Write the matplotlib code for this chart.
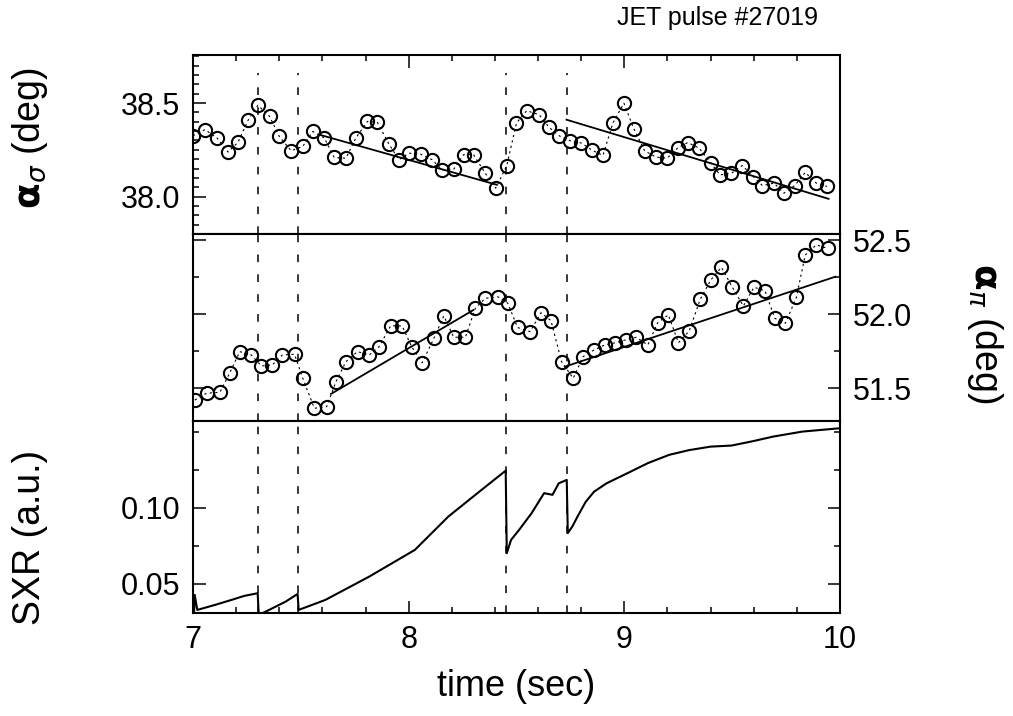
import matplotlib

matplotlib.use("Agg")
import matplotlib.pyplot as plt
from matplotlib.ticker import MultipleLocator, FixedLocator

plt.rcParams["font.family"] = ["Liberation Sans", "DejaVu Sans"]
plt.rcParams["mathtext.fontset"] = "dejavusans"

# ---------------------------------------------------------------------------
# data (JET pulse #27019)
# ---------------------------------------------------------------------------
sig_t = [7.000, 7.055, 7.112, 7.163, 7.209, 7.255, 7.301, 7.355, 7.400, 7.455,
         7.509, 7.555, 7.609, 7.655, 7.709, 7.755, 7.809, 7.855, 7.909, 7.955,
         8.001, 8.055, 8.109, 8.155, 8.209, 8.255, 8.301, 8.355, 8.404, 8.455,
         8.500, 8.547, 8.605, 8.651, 8.698, 8.748, 8.801, 8.852, 8.901, 8.947,
         8.998, 9.044, 9.094, 9.147, 9.198, 9.247, 9.294, 9.347, 9.401, 9.444,
         9.497, 9.547, 9.598, 9.640, 9.694, 9.740, 9.790, 9.839, 9.890, 9.940]
sig_v = [38.325, 38.358, 38.313, 38.238, 38.291, 38.407, 38.488, 38.429, 38.322, 38.245,
         38.268, 38.348, 38.313, 38.209, 38.205, 38.313, 38.402, 38.397, 38.280, 38.197,
         38.232, 38.227, 38.197, 38.143, 38.146, 38.224, 38.224, 38.125, 38.045, 38.166,
         38.393, 38.459, 38.438, 38.370, 38.325, 38.299, 38.286, 38.247, 38.220, 38.393,
         38.500, 38.363, 38.245, 38.211, 38.205, 38.259, 38.289, 38.259, 38.179, 38.116,
         38.125, 38.166, 38.107, 38.059, 38.072, 38.018, 38.059, 38.129, 38.072, 38.054]

pi_t = [7.009, 7.063, 7.125, 7.171, 7.217, 7.271, 7.317, 7.368, 7.414, 7.471,
        7.509, 7.563, 7.620, 7.663, 7.709, 7.763, 7.817, 7.863, 7.917, 7.970,
        8.014, 8.063, 8.117, 8.163, 8.209, 8.263, 8.309, 8.355, 8.413, 8.460,
        8.505, 8.563, 8.614, 8.660, 8.709, 8.763, 8.809, 8.860, 8.909, 8.958,
        9.006, 9.055, 9.109, 9.155, 9.204, 9.251, 9.301, 9.352, 9.401, 9.450,
        9.501, 9.552, 9.601, 9.652, 9.698, 9.747, 9.798, 9.839, 9.890, 9.943]
pi_v = [51.422, 51.468, 51.474, 51.607, 51.749, 51.726, 51.652, 51.659, 51.726, 51.731,
        51.569, 51.366, 51.377, 51.546, 51.681, 51.749, 51.726, 51.782, 51.924, 51.922,
        51.782, 51.674, 51.839, 51.990, 51.846, 51.846, 52.042, 52.109, 52.120, 52.076,
        51.912, 51.884, 52.012, 51.958, 51.681, 51.569, 51.715, 51.760, 51.794, 51.809,
        51.828, 51.846, 51.794, 51.945, 51.997, 51.809, 51.889, 52.103, 52.233, 52.319,
        52.184, 52.057, 52.184, 52.161, 51.974, 51.941, 52.116, 52.402, 52.470, 52.447]

# straight-line fits (start/end of each segment)
sig_fit_t = [[7.586, 8.409], [8.732, 9.947]]
sig_fit_v = [[38.331, 38.063], [38.411, 37.988]]
pi_fit_t = [[7.640, 8.300], [8.724, 9.978]]
pi_fit_v = [[51.463, 52.030], [51.647, 52.255]]

sxr_t = [7.005, 7.008, 7.020, 7.102, 7.179, 7.237, 7.300, 7.305, 7.353, 7.430,
         7.485, 7.490, 7.614, 7.817, 8.029, 8.184, 8.319, 8.450, 8.455, 8.475,
         8.512, 8.570, 8.628, 8.667, 8.696, 8.733, 8.738, 8.760, 8.783, 8.821,
         8.860, 8.918, 9.014, 9.110, 9.208, 9.300, 9.400, 9.497, 9.600, 9.690,
         9.826, 10.000]
sxr_v = [0.0310, 0.0428, 0.0329, 0.0362, 0.0395, 0.0421, 0.0439, 0.0296, 0.0329, 0.0384,
         0.0434, 0.0329, 0.0395, 0.0548, 0.0724, 0.0943, 0.1097, 0.1245, 0.0702, 0.0790,
         0.0855, 0.0965, 0.1097, 0.1086, 0.1162, 0.1184, 0.0834, 0.0880, 0.0943, 0.1040,
         0.1107, 0.1162, 0.1228, 0.1295, 0.1349, 0.1380, 0.1403, 0.1410, 0.1440, 0.1469,
         0.1502, 0.1524]

crash_t = [7.30, 7.485, 8.45, 8.735]

# ---------------------------------------------------------------------------
# figure
# ---------------------------------------------------------------------------
fig = plt.figure(figsize=(10.13, 7.16), dpi=100)
L, W = 0.1905, 0.6387
ax1 = fig.add_axes([L, 0.6732, W, 0.2500])
ax2 = fig.add_axes([L, 0.4120, W, 0.2612])
ax3 = fig.add_axes([L, 0.1439, W, 0.2682])

TICK_FS = 22
LABEL_FS = 27
DASH = (5, 8)

for ax in (ax1, ax2, ax3):
    ax.set_xlim(7, 10)
    for s in ax.spines.values():
        s.set_linewidth(1.5)
    ax.tick_params(which="both", direction="in", width=1.1,
                   labelsize=TICK_FS, pad=9)
    ax.tick_params(which="major", length=9)
    ax.tick_params(which="minor", length=4)
    ax.xaxis.set_major_locator(MultipleLocator(1))
    ax.xaxis.set_minor_locator(MultipleLocator(0.2))

# top: alpha_sigma
ax1.plot(sig_t, sig_v, ls=(0, (2, 3)), lw=0.8, color="black",
         marker="o", ms=9.5, mfc="none", mec="black", mew=1.5)
for ft, fv in zip(sig_fit_t, sig_fit_v):
    ax1.plot(ft, fv, color="black", lw=1.3)
ax1.set_ylim(37.80, 38.757)
ax1.yaxis.set_major_locator(FixedLocator([38.0, 38.5]))
ax1.yaxis.set_minor_locator(MultipleLocator(0.05))
ax1.yaxis.set_major_formatter(plt.FormatStrFormatter("%.1f"))
ax1.tick_params(axis="x", which="both", top=True, bottom=False,
                labelbottom=False)
ax1.tick_params(axis="y", which="both", right=False)
for t in crash_t:
    ax1.axvline(t, ymax=0.9, color="black", lw=1.1, dashes=DASH)

# middle: alpha_pi (right axis)
ax2.plot(pi_t, pi_v, ls=(0, (2, 3)), lw=0.8, color="black",
         marker="o", ms=9.5, mfc="none", mec="black", mew=1.5)
for ft, fv in zip(pi_fit_t, pi_fit_v):
    ax2.plot(ft, fv, color="black", lw=1.3)
ax2.set_ylim(51.28, 52.544)
ax2.yaxis.tick_right()
ax2.yaxis.set_major_locator(FixedLocator([51.5, 52.0, 52.5]))
ax2.yaxis.set_minor_locator(MultipleLocator(0.25))
ax2.yaxis.set_major_formatter(plt.FormatStrFormatter("%.1f"))
ax2.tick_params(axis="y", which="both", left=True, right=True,
                labelleft=False, labelright=True)
ax2.tick_params(axis="x", which="both", top=False, bottom=False,
                labelbottom=False)
for t in crash_t:
    ax2.axvline(t, color="black", lw=1.1, dashes=DASH)

# bottom: SXR
ax3.plot(sxr_t, sxr_v, color="black", lw=1.5)
ax3.set_ylim(0.0309, 0.1572)
ax3.yaxis.set_major_locator(FixedLocator([0.05, 0.10]))
ax3.yaxis.set_minor_locator(MultipleLocator(0.025))
ax3.yaxis.set_major_formatter(plt.FormatStrFormatter("%.2f"))
ax3.tick_params(axis="y", which="both", right=True)
ax3.tick_params(axis="x", which="both", top=False, bottom=True)
ax3.set_xticks([7, 8, 9, 10])
ax3.set_xticklabels(["7", "8", "9", "10"])
ax3.set_xlabel("time (sec)", fontsize=LABEL_FS - 1, labelpad=10)
for t in crash_t:
    ax3.axvline(t, color="black", lw=1.1, dashes=DASH)

# axis titles
fig.text(0.030, 1 - 138 / 716, r"$\mathbf{\alpha}_\sigma$ (deg)", rotation=90,
         fontsize=LABEL_FS, ha="center", va="center")
fig.text(0.030, 1 - 537 / 716, "SXR (a.u.)", rotation=90,
         fontsize=LABEL_FS, ha="center", va="center")
fig.text(0.972, 1 - 333 / 716, r"$\mathbf{\alpha}_\pi$ (deg)", rotation=-90,
         fontsize=LABEL_FS, ha="center", va="center")
fig.text(818 / 1013, 1 - 18 / 716, "JET pulse #27019", fontsize=18,
         ha="right", va="center")

fig.savefig("out.png", dpi=100)
